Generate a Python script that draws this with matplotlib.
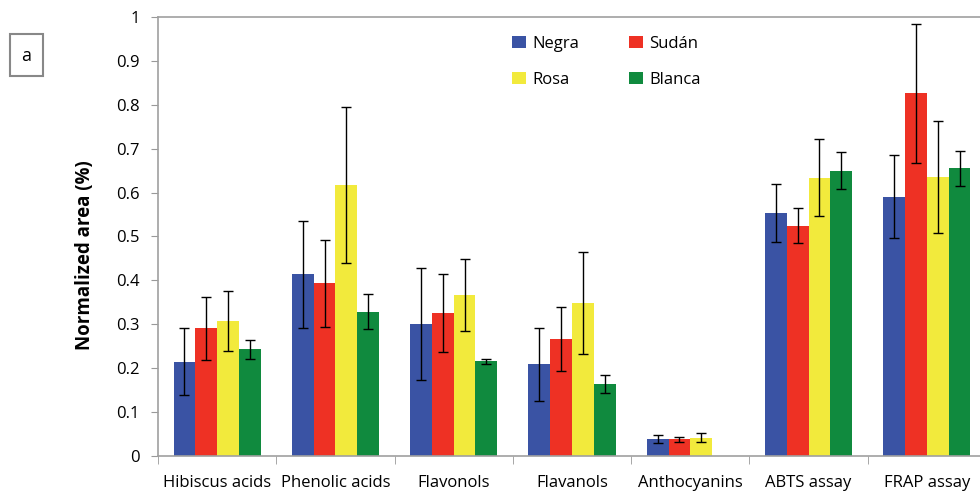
import numpy as np
import matplotlib
matplotlib.use("Agg")
import matplotlib.pyplot as plt
from matplotlib.patches import Rectangle

plt.rcParams["font.family"] = ["Open Sans", "DejaVu Sans"]

# ── data ────────────────────────────────────────────
categories = ["Hibiscus acids", "Phenolic acids", "Flavonols", "Flavanols",
              "Anthocyanins", "ABTS assay", "FRAP assay"]
series = ["Negra", "Sudán", "Rosa", "Blanca"]

negra = [0.215, 0.414, 0.301, 0.209, 0.039, 0.553, 0.591]
sudan = [0.291, 0.393, 0.326, 0.266, 0.038, 0.525, 0.826]
rosa = [0.307, 0.617, 0.367, 0.348, 0.042, 0.634, 0.635]
blanca = [0.243, 0.329, 0.216, 0.164, np.nan, 0.650, 0.655]

negra_err = [0.076, 0.122, 0.127, 0.083, 0.009, 0.066, 0.094]
sudan_err = [0.072, 0.100, 0.088, 0.073, 0.005, 0.040, 0.158]
rosa_err = [0.068, 0.178, 0.082, 0.116, 0.010, 0.087, 0.128]
blanca_err = [0.021, 0.040, 0.006, 0.020, np.nan, 0.042, 0.040]

values = [negra, sudan, rosa, blanca]
errors = [negra_err, sudan_err, rosa_err, blanca_err]
colors = ["#3A53A4", "#EE3124", "#F2EA3C", "#108A3E"]

# ── plot ────────────────────────────────────────────
fig = plt.figure(figsize=(9.8, 4.94), dpi=100)
ax = fig.add_axes([158 / 980, 38 / 494, 828 / 980, 439 / 494])

x = np.arange(len(categories))
width = 0.184
handles = {}
for i, (name, vals, errs, col) in enumerate(zip(series, values, errors, colors)):
    pos = x + (i - 1.5) * width
    bars = ax.bar(pos, vals, width, color=col, linewidth=0, label=name, zorder=2)
    ax.errorbar(pos, vals, yerr=errs, fmt="none", ecolor="black",
                elinewidth=1.0, capsize=3.5, capthick=1.0, zorder=3)
    handles[name] = bars

ax.set_xlim(-0.5, len(categories) - 0.5)
ax.set_ylim(0, 1)
ax.set_yticks(np.arange(0, 1.01, 0.1))
ax.set_yticklabels(["0"] + [f"{v:.1f}" for v in np.arange(0.1, 0.95, 0.1)] + ["1"])
ax.set_xticks(x)
ax.set_xticklabels(categories)
ax.set_xticks(np.arange(-0.5, len(categories), 1), minor=True)
ax.tick_params(axis="x", which="major", length=0, pad=14, labelsize=12)
ax.tick_params(axis="x", which="minor", length=6, color="#999999", direction="out")
ax.tick_params(axis="y", length=5, color="#999999", labelsize=12, pad=8)

for side in ["left", "bottom", "top"]:
    ax.spines[side].set_color("#A0A0A0")
    ax.spines[side].set_linewidth(1.2)
ax.spines["right"].set_visible(False)

ax.set_ylabel("Normalized area (%)", fontsize=13.5, fontweight="bold")
ax.yaxis.set_label_coords(-0.076, 0.458)

leg = ax.legend([handles[n] for n in ["Negra", "Rosa", "Sudán", "Blanca"]],
                ["Negra", "Rosa", "Sudán", "Blanca"],
                ncol=2, frameon=False, fontsize=12,
                loc="upper left", bbox_to_anchor=(0.41, 0.992),
                handlelength=0.8, handleheight=0.8, handletextpad=0.4,
                columnspacing=3.0, labelspacing=1.2)

# panel letter box
fig.add_artist(Rectangle((10 / 980, 1 - 76 / 494), 33 / 980, 42 / 494,
                         transform=fig.transFigure, fill=False,
                         edgecolor="#888888", linewidth=1.5))
fig.text(26.5 / 980, 1 - 56 / 494, "a", ha="center", va="center", fontsize=13)

fig.savefig("out.png", dpi=100)
